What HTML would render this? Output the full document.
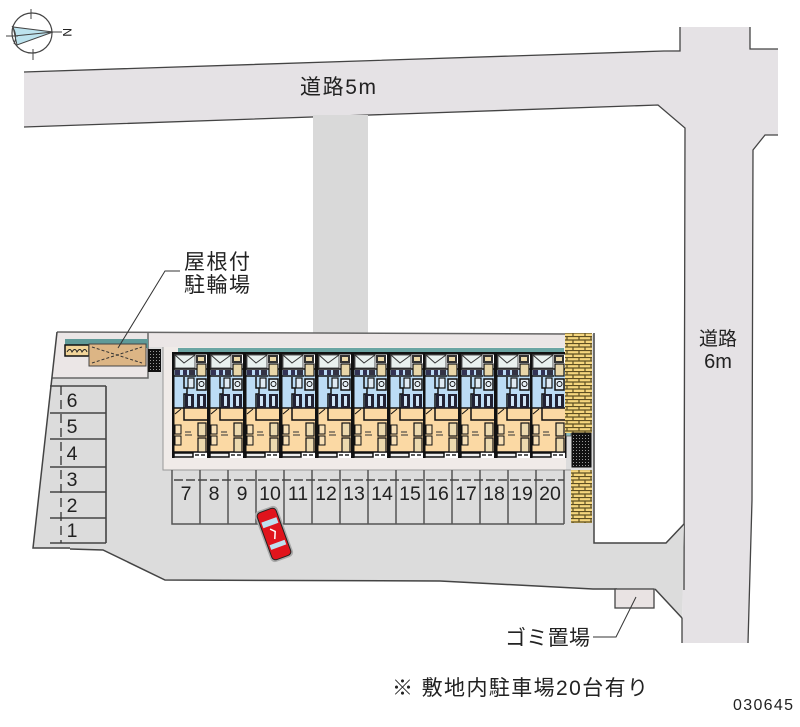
<!DOCTYPE html>
<html><head><meta charset="utf-8"><style>
html,body{margin:0;padding:0;background:#fff}
svg{display:block}
text{font-family:"Liberation Sans","Noto Sans CJK JP",sans-serif;fill:#222}
.n{font-size:19.500px;text-anchor:middle}
</style></head><body>
<svg width="800" height="727" viewBox="0 0 800 727" xmlns="http://www.w3.org/2000/svg">
<defs>
<g id="u">
<rect x="0" y="0" width="36" height="106" fill="#fff"/>
<rect x="1" y="18" width="34" height="38" fill="#bcdcf5"/>
<rect x="1" y="56" width="34" height="44" fill="#fbd9a4"/>
<rect x="0" y="0" width="2.500" height="106" fill="#111"/>
<rect x="35" y="0" width="1.500" height="106" fill="#111"/>
<rect x="0" y="0" width="36" height="2.500" fill="#111"/>
<path d="M2 17H36M2 24H24M2 56H36M2 100H36" stroke="#111" stroke-width="1.500" fill="none"/>
<rect x="3" y="3" width="20" height="13" fill="#e9f1ef" stroke="#333" stroke-width=".8"/>
<path d="M3 3L12 11L23 3" fill="none" stroke="#333" stroke-width="1"/>
<rect x="24" y="3" width="10" height="8" fill="#333"/><rect x="26" y="5" width="6" height="4" fill="#ecd9a8"/>
<rect x="25" y="12" width="9" height="12" fill="#e8d6a8" stroke="#111" stroke-width="1.200"/>
<rect x="3" y="18" width="5" height="5" fill="#335"/><rect x="11" y="18" width="4" height="5" fill="#335"/><rect x="17" y="18" width="6" height="5" fill="#334"/>
<path d="M12 25V36H15V42H12V56" stroke="#111" stroke-width="1.500" fill="none"/>
<rect x="16" y="26" width="6" height="10" fill="#dfeaf3" stroke="#111" stroke-width="1.200"/>
<rect x="25" y="27" width="9" height="11" fill="#e6f0f7" stroke="#111" stroke-width="1.500"/>
<circle cx="29.500" cy="32" r="2.500" fill="none" stroke="#111"/>
<rect x="13" y="42" width="9" height="14" fill="#223"/><rect x="16" y="44" width="3" height="10" fill="#cfe4f5"/>
<rect x="25" y="42" width="9" height="14" fill="#223"/><rect x="28" y="44" width="3" height="10" fill="#cfe4f5"/>
<path d="M12 56V68H36" stroke="#111" stroke-width="1.500" fill="none"/>
<path d="M3 62L9 57" stroke="#111" fill="none"/>
<rect x="3" y="73" width="6" height="9" fill="#f8e0b6" stroke="#111" stroke-width="1"/>
<rect x="3" y="84" width="6" height="9" fill="#f8e0b6" stroke="#111" stroke-width="1"/>
<path d="M13 80H19M13 83H20" stroke="#333" stroke-width="1"/>
<rect x="26" y="71" width="8" height="13" fill="#ecd9ae" stroke="#111" stroke-width="1.200"/>
<rect x="26" y="86" width="8" height="14" fill="#ecd9ae" stroke="#111" stroke-width="1.200"/>
<rect x="2" y="101" width="19" height="4" fill="#eee" stroke="#111" stroke-width="1.500"/>
<path d="M23 103H36" stroke="#222" stroke-width="1.500" stroke-dasharray="4 2"/>
</g>
<pattern id="b" width="12" height="7" patternUnits="userSpaceOnUse">
<rect width="12" height="7" fill="#f5d67e"/>
<path d="M0 .5H12M0 4H12M3 0V3.500M9 3.500V7" stroke="#5e4f22" stroke-width="1.200"/>
</pattern>
<pattern id="g" width="3" height="3" patternUnits="userSpaceOnUse">
<rect width="3" height="3" fill="#111"/><rect width="1" height="1" fill="#999"/>
</pattern>
</defs>

<!-- roads -->
<polygon points="24,72 680,50 680,27 750,27 750,49 778,49 778,135 765,135 753,150 752,500 748,643 682,643 685,128 658,105 24,127" fill="#e5e2e5"/>
<path d="M24 72L664 51H680V27M750 27V49H778M778 135H765L753 150L752 500L748 643M682 643V618M684 590L685 128L658 105L24 127" fill="none" stroke="#444" stroke-width="1.300"/>
<!-- drive -->
<rect x="313" y="115" width="55" height="218" fill="#d9d9d9"/>
<!-- lot -->
<polygon points="57,332 594,334 594,543 666,543 684,524 682,618 655,589 593,589 440,581 165,580 103,550 70,549 33,548" fill="#dcdcdc"/>
<!-- pink areas -->
<polygon points="57,332 148,333 148,378 52,378" fill="#ebe6e6"/>
<rect x="148" y="333" width="417" height="14" fill="#ebe6e6"/>
<rect x="163" y="347" width="403" height="123" fill="#f0ebe8"/>
<path d="M163 347V470H571" stroke="#999" fill="none"/>
<path d="M57 332L565 334M148 333V378H52" stroke="#666" stroke-width="1.500" fill="none"/>
<path d="M57 332L33 548H70M70 549L103 550L165 580L440 581L593 589H617M594 333V543H666L684 524" fill="none" stroke="#444" stroke-width="1.500"/>
<path d="M655 589L682 618" stroke="#444" stroke-width="1.500"/>
<!-- gomi -->
<rect x="615" y="589" width="39" height="19" fill="#e9e3e3" stroke="#444" stroke-width="1.300"/>
<!-- bike shed -->
<rect x="65" y="339" width="83" height="9" fill="#5f9a98"/>
<rect x="65" y="345" width="24" height="11" fill="#f2d59a" stroke="#111" stroke-width="1.500"/>
<path d="M67 352q3-5 5 0q3-5 5 0q3-5 5 0q3-5 5 0" fill="none" stroke="#222"/>
<rect x="89" y="344" width="57" height="22" fill="#dcb585" stroke="#444"/>
<path d="M92 347L142 363M92 363L142 347" stroke="#333" stroke-dasharray="3 2" fill="none"/>
<rect x="148" y="349" width="13" height="23" fill="url(#g)"/>
<!-- building -->
<rect x="178" y="348" width="386" height="5" fill="#6ba5a3"/>
<use href="#u" x="172" y="352"/><use href="#u" x="208" y="352"/><use href="#u" x="244" y="352"/>
<use href="#u" x="280" y="352"/><use href="#u" x="316" y="352"/><use href="#u" x="352" y="352"/>
<use href="#u" x="388" y="352"/><use href="#u" x="423" y="352"/><use href="#u" x="459" y="352"/>
<use href="#u" x="495" y="352"/><use href="#u" x="530" y="352"/>
<rect x="566" y="360" width="5" height="76" fill="#8fc0c0" stroke="#555" stroke-width=".7"/>
<!-- bricks -->
<rect x="565" y="333" width="27" height="100" fill="url(#b)"/>
<rect x="571" y="470" width="21" height="53" fill="url(#b)"/>
<rect x="572" y="433" width="19" height="34" fill="url(#g)" stroke="#111" stroke-width="1"/>
<!-- left parking -->
<path d="M106 386H50M106 413H50M106 439H50M106 467H50M106 492H50M106 518H50M106 543H50M106 386V543" stroke="#444" stroke-width="1.600" fill="none"/>
<path d="M61 386V543" stroke="#333" stroke-width="1.300" stroke-dasharray="9 5"/>
<text class="n" x="72" y="407">6</text><text class="n" x="72" y="433">5</text><text class="n" x="72" y="460">4</text>
<text class="n" x="72" y="486">3</text><text class="n" x="72" y="512">2</text><text class="n" x="72" y="537">1</text>
<!-- top parking -->
<path d="M172 470V524H564M200 470V524M228 470V524M256 470V524M284 470V524M312 470V524M340 470V524M368 470V524M396 470V524M424 470V524M452 470V524M480 470V524M508 470V524M536 470V524M564 470V524" stroke="#555" stroke-width="1.500" fill="none"/>
<path d="M174 480H564" stroke="#444" stroke-width="1.600" stroke-dasharray="9 3"/>
<text class="n" x="186" y="500">7</text><text class="n" x="214" y="500">8</text><text class="n" x="242" y="500">9</text>
<text class="n" x="270" y="500">10</text><text class="n" x="298" y="500">11</text><text class="n" x="326" y="500">12</text>
<text class="n" x="354" y="500">13</text><text class="n" x="382" y="500">14</text><text class="n" x="410" y="500">15</text>
<text class="n" x="438" y="500">16</text><text class="n" x="466" y="500">17</text><text class="n" x="494" y="500">18</text>
<text class="n" x="522" y="500">19</text><text class="n" x="550" y="500">20</text>
<!-- car -->
<g transform="translate(274 534) rotate(-20)">
<rect x="-12" y="-27" width="24" height="54" rx="5" fill="#aaa"/>
<rect x="-10" y="-25" width="20" height="50" rx="4" fill="#e0141c" stroke="#222"/>
<rect x="-8" y="-15" width="16" height="6" fill="#bfe0ee"/>
<rect x="-8" y="9" width="16" height="5" fill="#bfe0ee"/>
<path d="M-2 -6L2 -2L-1 5" stroke="#fff" stroke-width="1.500" fill="none"/>
</g>
<!-- compass -->
<circle cx="32" cy="33" r="20" fill="#fff" stroke="#444" stroke-width="1.200"/>
<polygon points="53,32 13,27 17,45" fill="#bde3ee" stroke="#444" stroke-width="1"/>
<path d="M53 32L14 36M31 9V19M33 49V60M6 36H18M53 32H62M12 26Q18 35 14 44" stroke="#444" stroke-width="1" fill="none"/>
<text x="0" y="0" font-size="12" transform="translate(63 28) rotate(90)">N</text>
<!-- labels -->
<path d="M180 271H165L118 348" stroke="#333" fill="none"/>
<path d="M593 637H616L636 597" stroke="#333" fill="none"/>
<text x="300" y="94" font-size="21" textLength="76" lengthAdjust="spacing">道路5m</text>
<text x="184" y="269" font-size="21" textLength="66" lengthAdjust="spacing">屋根付</text>
<text x="184" y="292" font-size="21" textLength="66" lengthAdjust="spacing">駐輪場</text>
<text x="699" y="345" font-size="19" textLength="38" lengthAdjust="spacing">道路</text>
<text x="718" y="368" font-size="20" text-anchor="middle">6m</text>
<text x="505" y="645" font-size="21" textLength="85" lengthAdjust="spacing">ゴミ置場</text>
<text x="392" y="695" font-size="21" textLength="256" lengthAdjust="spacing">※ 敷地内駐車場20台有り</text>
<text x="733" y="710" font-size="16" textLength="60" lengthAdjust="spacing">030645</text>
</svg>
</body></html>
